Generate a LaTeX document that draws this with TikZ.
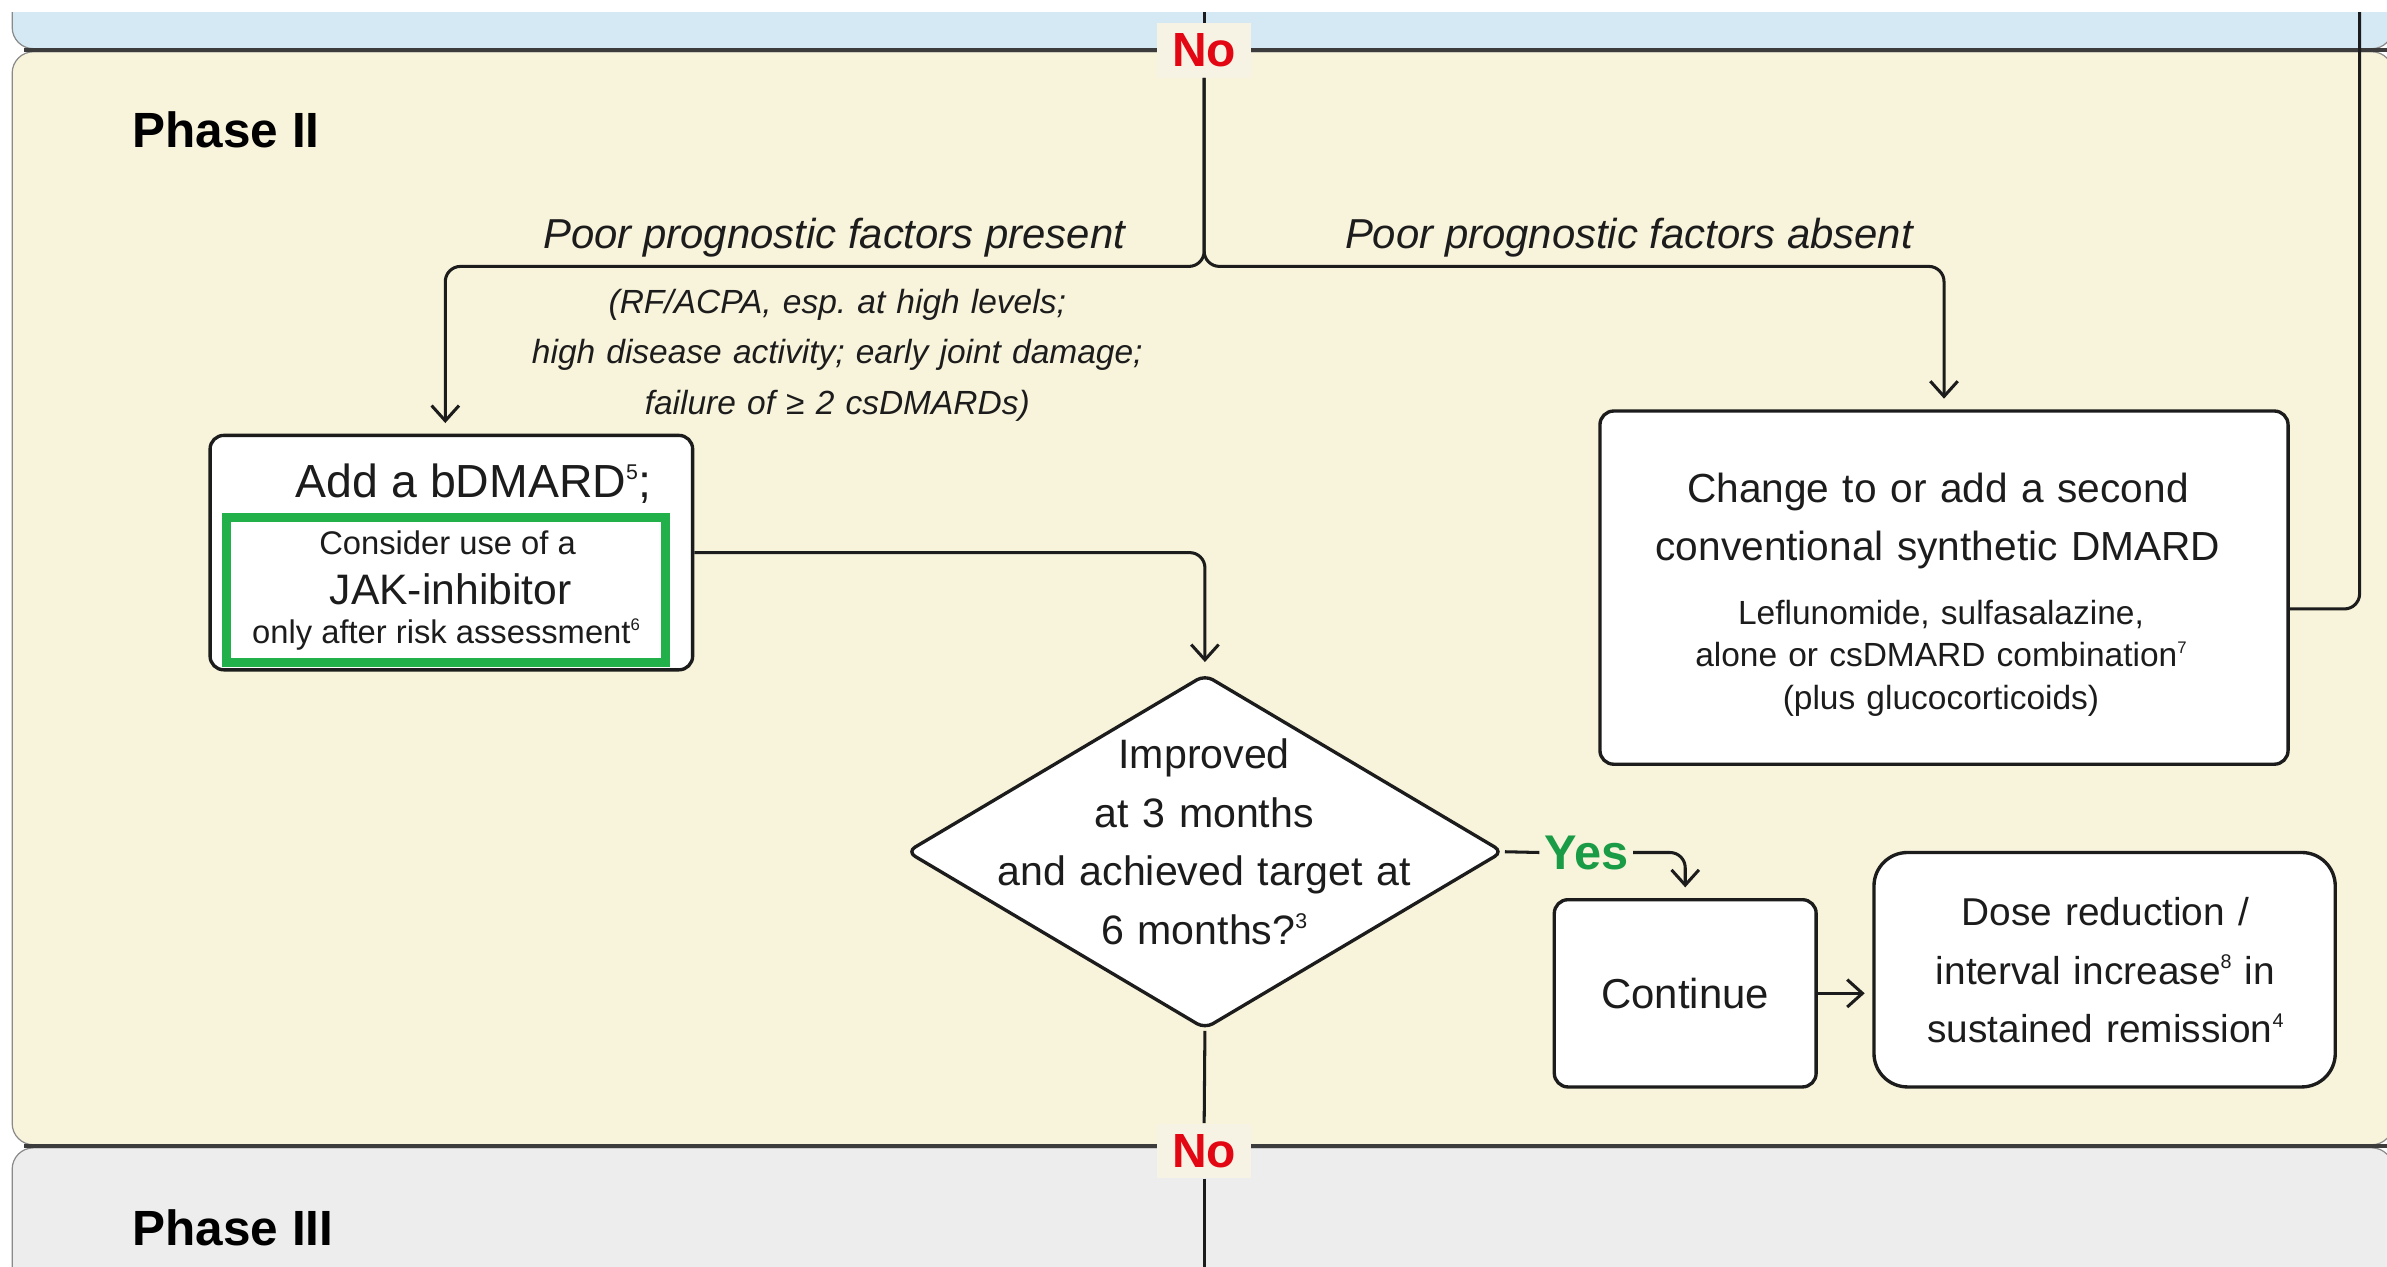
\documentclass[tikz,border=0pt]{standalone}
\usepackage{fontspec}
\setmainfont{Liberation Sans}
\usetikzlibrary{arrows.meta,shapes.geometric}
\definecolor{bluepanel}{HTML}{D5E9F4}
\definecolor{creampanel}{HTML}{F8F3DB}
\definecolor{greypanel}{HTML}{ECEDEC}
\definecolor{panelline}{HTML}{8A8A8A}
\definecolor{sepline}{HTML}{3C3C3C}
\definecolor{nored}{HTML}{E30613}
\definecolor{yesgreen}{HTML}{1A9B45}
\definecolor{jakgreen}{HTML}{22B04B}
\definecolor{nofill}{HTML}{F6F3E4}
\definecolor{ink}{HTML}{1C1C1C}
\newcommand\fs[2]{\fontsize{#1}{#2}\selectfont}
\newcommand\sups[2][14]{\raisebox{0.4em}{\fontsize{#1}{#1}\selectfont #2}}
\frenchspacing
\begin{document}
\begin{tikzpicture}[x=1pt,y=-1pt,
  conn/.style={line width=2pt, draw=ink, rounded corners=10pt},
  arr/.style={conn, -{Straight Barb[length=10pt,width=18pt,line width=2pt]}, shorten >=7pt},
  stepbox/.style={draw=ink, line width=2.2pt, fill=white, rounded corners=9pt, inner sep=0pt},
  txt/.style={anchor=base, align=center, inner sep=0pt, text=ink},
  nolab/.style={font=\bfseries\fs{31.5}{34}, text=nored, fill=nofill, inner xsep=10pt, inner ysep=7pt},
  panel/.style={draw=panelline, line width=0.8pt, rounded corners=14pt}
  ]
\useasboundingbox (0,0) rectangle (1568,832);
\fill[white] (0,0) rectangle (1568,832);
% panels
\begin{scope}
  \clip (0,8) rectangle (1568,832);
  \path[panel, fill=bluepanel] (8,-40) rectangle (1572,32);
  \path[panel, fill=creampanel] (8,34) rectangle (1572,752);
  \path[panel, fill=greypanel] (8,754) rectangle (1572,900);
  \draw[line width=2.6pt, sepline] (16,33) -- (1568,33);
  \draw[line width=2.6pt, sepline] (16,753) -- (1568,753);
\end{scope}
% phase labels
\node[anchor=base west, inner sep=0pt, font=\bfseries\fs{32.5}{36}] (ph2) at (87,97) {Phase II};
\node[anchor=base west, inner sep=0pt, font=\bfseries\fs{32.5}{36}] (ph3) at (87,818) {Phase III};
% labels
\node[nolab] (no1) at (791,33) {No};
\node[nolab] (no2) at (791,756) {No};
\node[txt, font=\itshape\fs{27.5}{30}] (pfp) at (548,163) {Poor prognostic factors present};
\node[txt, font=\itshape\fs{27.5}{30}] (pfa) at (1070,163) {Poor prognostic factors absent};
\node[txt, text width=560pt, font=\itshape\fs{22}{33}] (pfl) at (550,206)
  {(RF/ACPA, esp. at high levels;\\high disease activity; early joint damage;\\failure of ≥ 2 csDMARDs)};
% boxes
\node[stepbox, minimum width=317pt, minimum height=154pt] (addbox) at (296.5,363) {};
\node[stepbox, minimum width=452pt, minimum height=232pt] (chg) at (1277,386) {};
\node[stepbox, minimum width=172pt, minimum height=123pt, font=\fs{27.5}{33}, text=ink] (cont) at (1107,652.5) {Continue};
\node[stepbox, minimum width=303pt, minimum height=154pt, rounded corners=22pt] (dose) at (1382.5,637) {};
\node[diamond, draw=ink, line width=2.2pt, fill=white, minimum width=392pt, minimum height=233pt, inner sep=0pt, rounded corners=6pt] (dia) at (791.5,559.5) {};
% box texts
\node[txt, font=\fs{30.5}{34}] (addt) at (311,327) {Add a bDMARD\sups{5};};
\node[draw=jakgreen, line width=6pt, minimum width=288pt, minimum height=95pt, inner sep=0pt] (jak) at (293,387.5) {};
\node[txt, font=\fs{21.5}{26}] (jak1) at (294,364) {Consider use of a};
\node[txt, font=\fs{28}{32}] (jak2) at (296,397) {JAK-inhibitor};
\node[txt, font=\fs{21.5}{26}] (jak3) at (293,423) {only after risk assessment\sups[11]{6}};
\node[txt, text width=440pt, font=\fs{26.7}{38}] (chg1) at (1273,330) {Change to or add a second\\conventional synthetic DMARD};
\node[txt, text width=440pt, font=\fs{22}{28}] (chg2) at (1275,410) {Leflunomide, sulfasalazine,\\alone or csDMARD combination\sups[11]{7}\\(plus glucocorticoids)};
\node[txt, text width=380pt, font=\fs{27}{38.5}] (dtx) at (791,505) {Improved\\at 3 months\\and achieved target at\\6 months?\sups{3}};
\node[txt, text width=295pt, font=\fs{25.5}{38.5}] (dosetx) at (1383,608) {Dose reduction /\\interval increase\sups[13]{8} in\\sustained remission\sups[13]{4}};
\node[font=\bfseries\fs{32}{34}, text=yesgreen, inner xsep=3pt, inner ysep=0pt] (yes) at (1042,560) {Yes};
% coordinates for free ends
\coordinate (topin) at (791,8);
\coordinate (split) at (791,175);
\coordinate (backup) at (1550,8);
\coordinate (phase3in) at (791,832);
% connectors
\draw[conn] (topin) -- (no1.north);
\draw[arr] (no1.south) -- (split) -| ([xshift=-4pt]addbox.north);
\draw[arr] (no1.south) -- (split) -| (chg.north);
\draw[arr] (addbox.east) -| (dia.north);
\draw[conn] (dia.east) -- (yes.west);
\draw[arr] (yes.east) -| (cont.north);
\draw[arr, shorten >=5pt] (cont.east) -- (cont.east -| dose.west);
\draw[conn] ([yshift=-14pt]chg.east) -| (backup);
\draw[conn] (dia.south) -- (no2.north);
\draw[conn] (no2.south) -- (phase3in);
\end{tikzpicture}
\end{document}
